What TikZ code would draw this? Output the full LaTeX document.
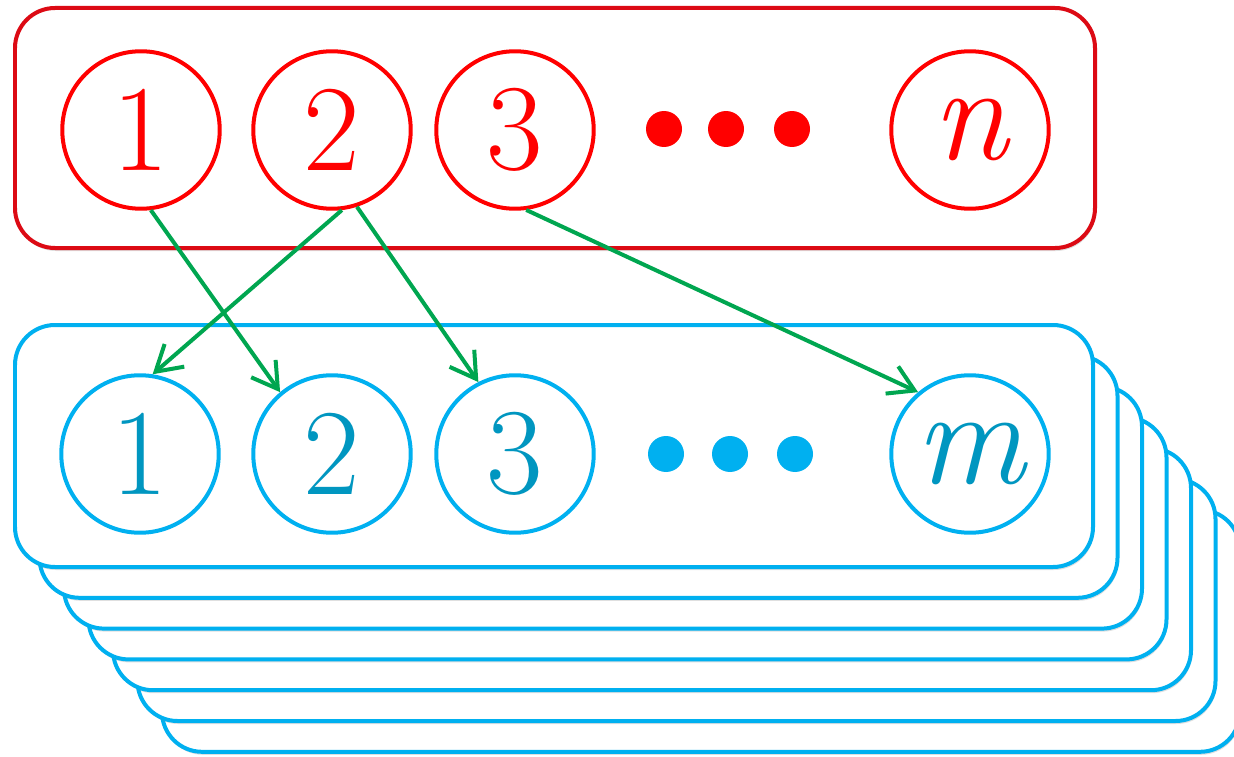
\documentclass[tikz,border=0pt]{standalone}
\usetikzlibrary{arrows.meta,shadows}

\definecolor{nodered}{RGB}{255,0,0}
\definecolor{framered}{RGB}{220,10,20}
\definecolor{nodeblue}{RGB}{0,176,240}
\definecolor{textblue}{RGB}{0,150,192}
\definecolor{linkgreen}{RGB}{0,166,80}

\tikzset{
	softshadow/.style={drop shadow={shadow xshift=0.02cm,shadow yshift=-0.06cm,opacity=0.25}},
	redframe/.style={draw=framered,line width=0.08cm,rounded corners=0.8cm,fill=white,softshadow},
	layer/.style={draw=nodeblue,line width=0.08cm,rounded corners=0.8cm,fill=white,softshadow},
	redcirc/.style={circle,draw=nodered,line width=0.08cm,minimum size=3.15cm,inner sep=0pt,text=nodered,font=\fontsize{70}{70}\selectfont},
	bluecirc/.style={circle,draw=nodeblue,line width=0.08cm,minimum size=3.15cm,inner sep=0pt,text=textblue,font=\fontsize{70}{70}\selectfont},
	letter/.style={font=\fontsize{78}{78}\selectfont\itshape},
	link/.style={draw=linkgreen,line width=0.08cm,-{Straight Barb[length=5mm,width=6mm]}}
}

\begin{document}
\begin{tikzpicture}[x=0.02cm,y=-0.02cm]
		\useasboundingbox (0,0) rectangle (1234,757);
		% stack of layers, back one first
		\foreach \k in {6,5,...,0}{
			\pgfmathparse{15+24.5*\k}
			\edef\lx{\pgfmathresult}
			\pgfmathparse{325+30.8*\k}
			\edef\ty{\pgfmathresult}
			\draw[layer] (\lx,\ty) rectangle (\lx+1078,\ty+242);
		}
		\draw[redframe] (15,8) rectangle (1095,248);
		% top row
		\node[redcirc] (r1) at (141,130) {1};
		\node[redcirc] (r2) at (332,130) {2};
		\node[redcirc] (r3) at (515,130) {3};
		\node[redcirc,letter] (rn) at (970,130) {n};
		\foreach \x in {664,726,792}
			\fill[nodered] (\x,129) circle (0.36cm);
		% bottom row
		\node[bluecirc] (b1) at (140,454) {1};
		\node[bluecirc] (b2) at (332,454) {2};
		\node[bluecirc] (b3) at (515,454) {3};
		\node[bluecirc,letter] (bm) at (970,454) {m};
		\foreach \x in {666,730,795}
			\fill[nodeblue] (\x,454) circle (0.36cm);
		% links
		\draw[link] (r1.277) -- (b2.130);
		\draw[link] (r2.277) -- (b1.81);
		\draw[link] (r2.288) -- (b3.117);
		\draw[link] (r3.278) -- (bm.130);
	\end{tikzpicture}
\end{document}
